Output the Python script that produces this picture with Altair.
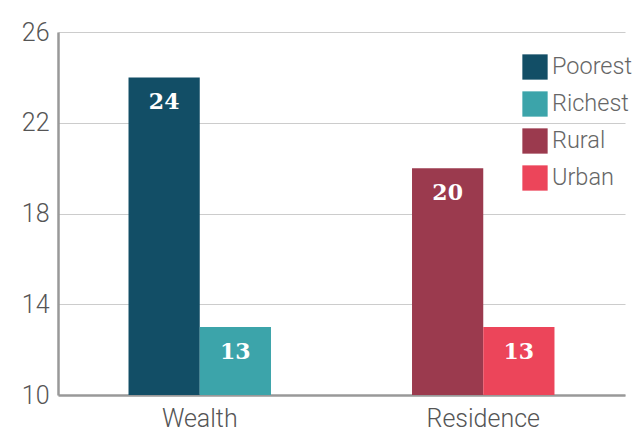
import altair as alt
import pandas as pd

groups = ["Wealth", "Wealth", "Residence", "Residence"]
categories = ["Poorest", "Richest", "Rural", "Urban"]
positions = [0, 1, 0, 1]
values = [24, 13, 20, 13]
colors = ["#124e66", "#3ca4aa", "#9b3a4e", "#ec455a"]
y_ticks = [10, 14, 18, 22, 26]

df = pd.DataFrame({"group": groups, "category": categories, "pos": positions, "value": values})

x = alt.X("group:N", sort=["Wealth", "Residence"], title=None,
          scale=alt.Scale(paddingInner=0, paddingOuter=0),
          axis=alt.Axis(labelAngle=0, labelFont="Roboto", labelFontWeight=300, labelFontSize=25,
                        labelColor="#555555", labelPadding=11, ticks=False,
                        domainColor="#999999", domainWidth=2.5, grid=False))
xo = alt.XOffset("pos:N", scale=alt.Scale(paddingOuter=0.99, paddingInner=0))
y = alt.Y("value:Q", title=None,
          scale=alt.Scale(domain=[10, 26], zero=False, nice=False),
          axis=alt.Axis(values=y_ticks, labelFont="Roboto", labelFontWeight=300, labelFontSize=25,
                        labelColor="#555555", labelPadding=9, ticks=False,
                        domainColor="#999999", domainWidth=2.5,
                        gridColor="#cccccc", gridWidth=1.2))

bars = alt.Chart(df).mark_bar().encode(
    x=x, xOffset=xo, y=y, y2=alt.datum(10),
    color=alt.Color("category:N", sort=categories,
                    scale=alt.Scale(domain=categories, range=colors),
                    legend=alt.Legend(title=None, orient="none", legendX=464, legendY=22,
                                      symbolType="square", symbolSize=640, symbolStrokeWidth=0,
                                      symbolOpacity=1, labelFont="Roboto", labelFontWeight=300,
                                      labelFontSize=23.5, labelColor="#666666", rowPadding=11,
                                      labelOffset=4)),
)

labels = alt.Chart(df).mark_text(color="white", font="DejaVu Serif", fontWeight="bold",
                                 fontSize=22, baseline="middle", dy=25).encode(
    x=alt.X("group:N", sort=["Wealth", "Residence"]), xOffset=xo, y=alt.Y("value:Q"),
    text=alt.Text("value:Q"),
)

chart = alt.layer(bars, labels).properties(
    width=567, height=363,
    autosize=alt.AutoSizeParams(type="none"),
    padding={"left": 58, "top": 32, "right": 12, "bottom": 37},
).configure_view(stroke=None).configure_axisY(domain=True)

chart.save("out.html", embed_options={"renderer": "svg", "actions": False})
